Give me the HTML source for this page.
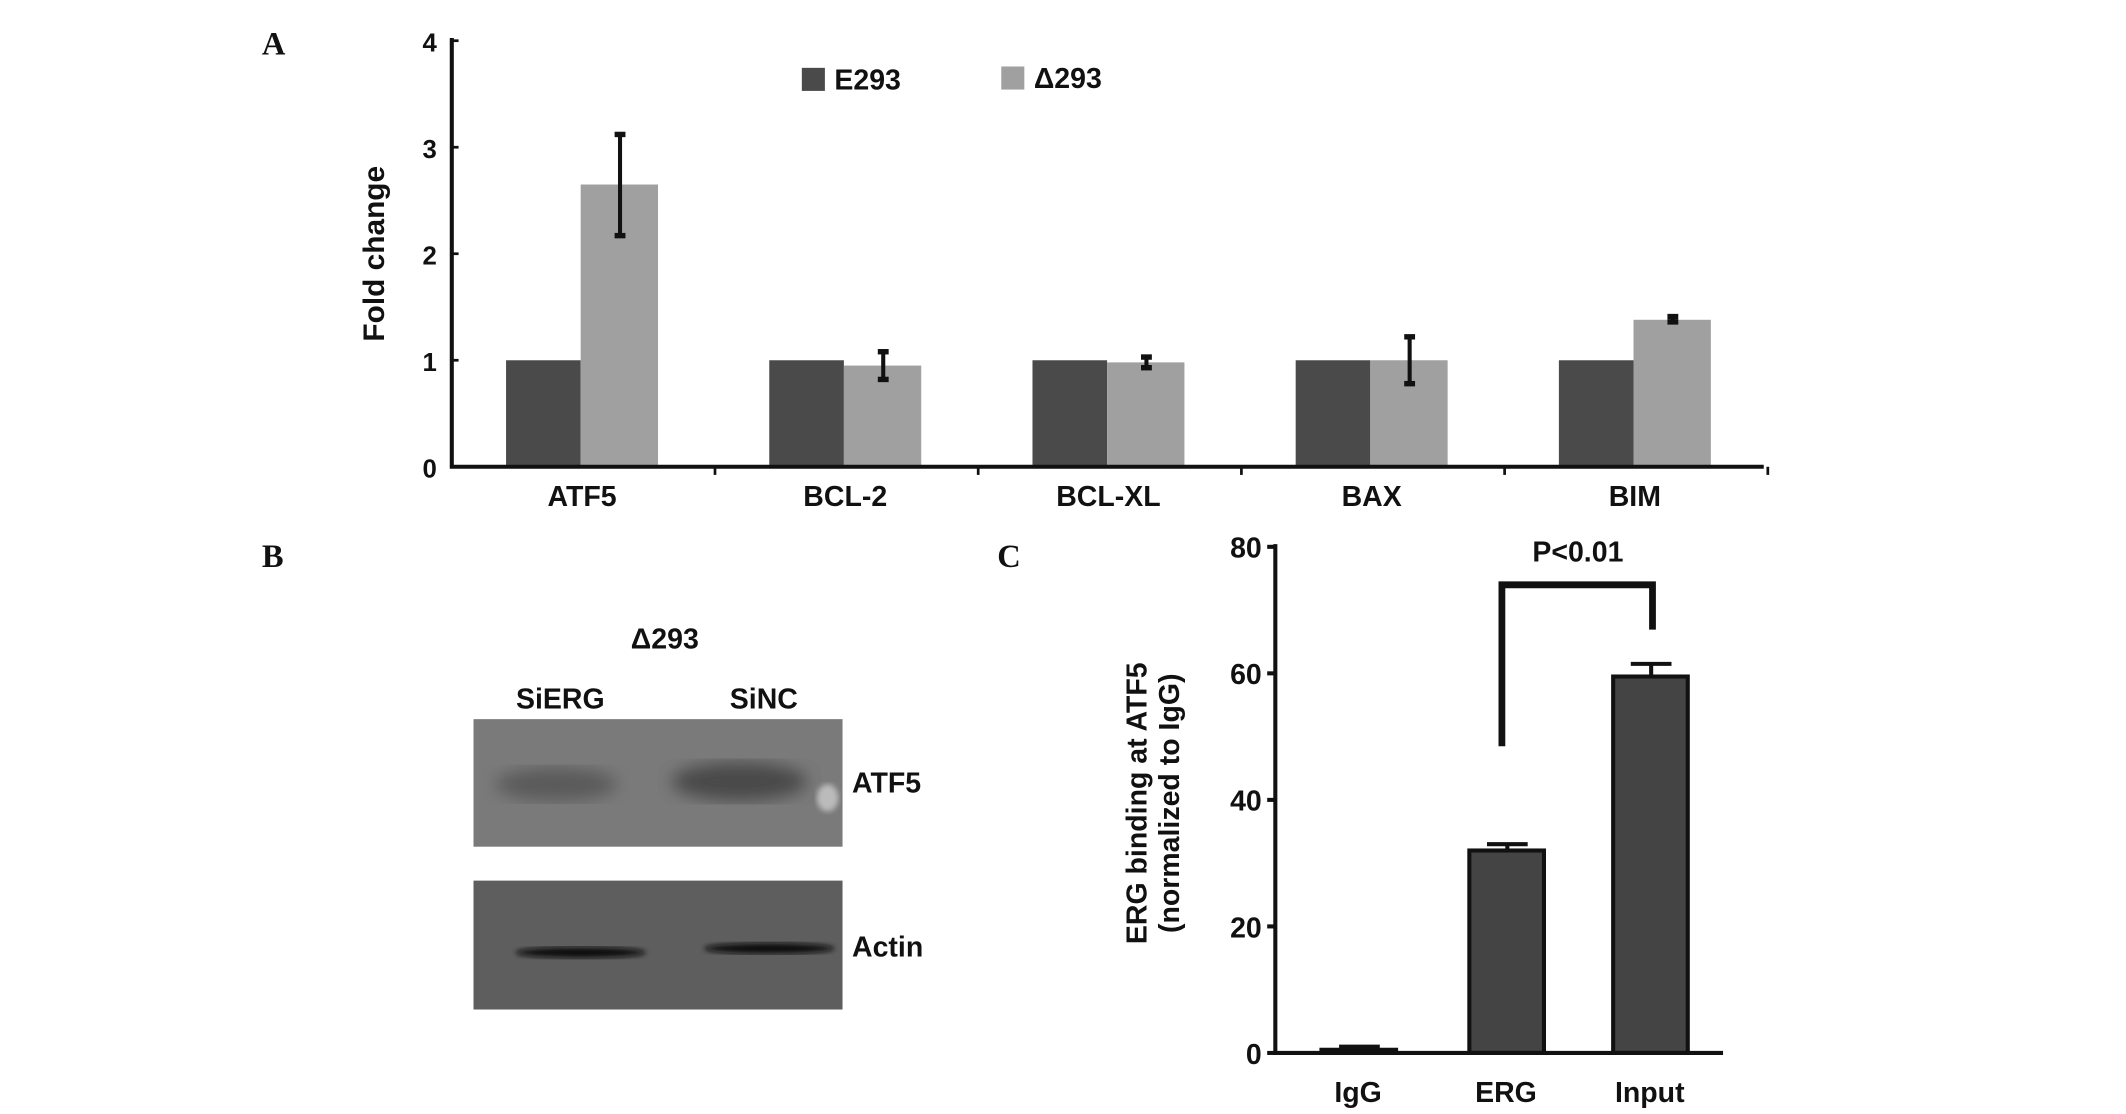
<!DOCTYPE html>
<html><head><meta charset="utf-8"><style>
html,body{margin:0;padding:0;background:#fff;}
svg{display:block;}
text{font-family:"Liberation Sans",Arial,sans-serif;font-weight:bold;fill:#111;}
.pl{font-family:"Liberation Serif",serif;font-size:24px;}
</style></head><body>
<svg id="fig" width="2126" height="1114" viewBox="0 0 1567 821" preserveAspectRatio="none" xmlns="http://www.w3.org/2000/svg">
<defs>
<filter id="blur1"><feGaussianBlur stdDeviation="6"/></filter>
<filter id="blur2"><feGaussianBlur stdDeviation="2"/></filter>
</defs>
<g id="panelA"></g>
<g id="panelB">
 <text class="pl" x="193" y="418">B</text>
 <text x="490" y="478" font-size="21" text-anchor="middle">Δ293</text>
 <text x="413" y="522" font-size="21" text-anchor="middle">SiERG</text>
 <text x="563" y="522" font-size="21" text-anchor="middle">SiNC</text>
 <g>
  <rect x="349" y="530" width="272" height="94" fill="#7a7a7a"/>
  <ellipse cx="410" cy="578" rx="45" ry="12" fill="#5a5a5a" filter="url(#blur1)"/>
  <ellipse cx="545" cy="576" rx="50" ry="14" fill="#4a4a4a" filter="url(#blur1)"/>
  <ellipse cx="610" cy="588" rx="8" ry="10" fill="#bbb" filter="url(#blur2)"/>
 </g>
 <g>
  <rect x="349" y="649" width="272" height="95" fill="#5e5e5e"/>
  <ellipse cx="428" cy="702" rx="48" ry="4" fill="#111" filter="url(#blur2)"/>
  <ellipse cx="567" cy="699" rx="48" ry="4" fill="#111" filter="url(#blur2)"/>
 </g>
 <text x="628" y="584" font-size="21">ATF5</text>
 <text x="628" y="705" font-size="21">Actin</text>
</g>
<g id="panelC"></g>
</svg>
<script>
const NS='http://www.w3.org/2000/svg';
function mk(parent,tag,attrs,txt){const e=document.createElementNS(NS,tag);for(const k in attrs)e.setAttribute(k,attrs[k]);if(txt!==undefined)e.textContent=txt;parent.appendChild(e);return e;}

// Panel A data
const catsA=['ATF5','BCL-2','BCL-XL','BAX','BIM'];
const e293=[1,1,1,1,1];
const d293=[2.65,0.95,0.98,1.0,1.38];
const d293Lo=[2.17,0.82,0.93,0.78,1.36];
const d293Hi=[3.12,1.08,1.03,1.22,1.41];
const ticksA=[0,1,2,3,4];

// Panel C data
const catsC=['IgG','ERG','Input'];
const valsC=[0.5,32,59.5];
const errC=[0.5,1,2];
const ticksC=[0,20,40,60,80];

const A=document.getElementById('panelA');
const yA=v=>344-v*78.5;
const x0A=333, stepA=194;
let t=mk(A,'text',{class:'pl',x:193,y:40});


t.textContent='A';
catsA.forEach((c,i)=>{
  const gx=x0A+40+i*stepA;
  let r=mk(A,'rect',{x:gx,y:yA(e293[i]),width:55,height:344-yA(e293[i]),fill:'#4a4a4a'});
  
  
  r=mk(A,'rect',{x:gx+55,y:yA(d293[i]),width:57,height:344-yA(d293[i]),fill:'#a0a0a0'});
  
  
  const ex=gx+84;
  const g=mk(A,'g',{stroke:'#111','stroke-width':3});
  
  
  mk(g,'line',{x1:ex,x2:ex,y1:yA(d293Lo[i]),y2:yA(d293Hi[i])});
  mk(g,'line',{x1:ex-4,x2:ex+4,y1:yA(d293Lo[i]),y2:yA(d293Lo[i]),'stroke-width':4});
  mk(g,'line',{x1:ex-4,x2:ex+4,y1:yA(d293Hi[i]),y2:yA(d293Hi[i]),'stroke-width':4});
  const l=mk(A,'text',{x:gx+56,y:373,'font-size':21,'text-anchor':'middle'},c);
  
  
  const tk=mk(A,'line',{x1:x0A+(i+1)*stepA,x2:x0A+(i+1)*stepA,y1:344,y2:350,stroke:'#111','stroke-width':2});
  
  
});
let ax=mk(A,'path',{d:`M${x0A} 28 V344 H1300`,fill:'none',stroke:'#111','stroke-width':3});


ticksA.forEach(v=>{
  const k=mk(A,'line',{x1:x0A,x2:x0A+5,y1:yA(v),y2:yA(v),stroke:'#111','stroke-width':2});
  
  
  const l=mk(A,'text',{x:322,y:yA(v)+8,'font-size':19,'text-anchor':'end'},String(v));
  
  
});
let yt=mk(A,'text',{x:0,y:0,'font-size':22,'text-anchor':'middle',transform:'translate(283,187) rotate(-90)'},'Fold change');


let lg=mk(A,'g',{});


let le=mk(lg,'rect',{x:591,y:50,width:17,height:17,fill:'#4a4a4a'});


le=mk(lg,'text',{x:615,y:66,'font-size':21},'E293');


le=mk(lg,'rect',{x:738,y:49,width:17,height:17,fill:'#a0a0a0'});


le=mk(lg,'text',{x:762,y:65,'font-size':21},'Δ293');



// Panel C
const C=document.getElementById('panelC');
const yC=v=>776-v*(373/80);
const xsC=[974,1083,1189];
t=mk(C,'text',{class:'pl',x:735,y:418},'C');


catsC.forEach((c,i)=>{
  const x=xsC[i];
  const ex=x+28;
  const g=mk(C,'g',{stroke:'#111','stroke-width':3});
  
  
  mk(g,'line',{x1:ex,x2:ex,y1:yC(valsC[i]),y2:yC(valsC[i]+errC[i])});
  mk(g,'line',{x1:ex-15,x2:ex+15,y1:yC(valsC[i]+errC[i]),y2:yC(valsC[i]+errC[i])});
  const r=mk(C,'rect',{x:x,y:yC(valsC[i]),width:55,height:Math.max(2,776-yC(valsC[i])),fill:'#444',stroke:'#111','stroke-width':3});
  
  
  const l=mk(C,'text',{x:x+27,y:812,'font-size':21,'text-anchor':'middle'},c);
  
  
});
ax=mk(C,'path',{d:'M940 401 V776 H1270',fill:'none',stroke:'#111','stroke-width':3});


ticksC.forEach(v=>{
  const k=mk(C,'line',{x1:934,x2:940,y1:yC(v),y2:yC(v),stroke:'#111','stroke-width':3});
  
  
  const l=mk(C,'text',{x:930,y:yC(v)+8,'font-size':21,'text-anchor':'end'},String(v));
  
  
});
let br=mk(C,'path',{d:'M1107 550 V431 H1218 V464',fill:'none',stroke:'#111','stroke-width':5});


let pv=mk(C,'text',{x:1163,y:414,'font-size':21,'text-anchor':'middle'},'P<0.01');


yt=mk(C,'text',{x:0,y:0,'font-size':21,'text-anchor':'middle',transform:'translate(845,592) rotate(-90)'},'ERG binding at ATF5');


yt=mk(C,'text',{x:0,y:0,'font-size':21,'text-anchor':'middle',transform:'translate(869,592) rotate(-90)'},'(normalized to IgG)');


</script>
</body></html>
